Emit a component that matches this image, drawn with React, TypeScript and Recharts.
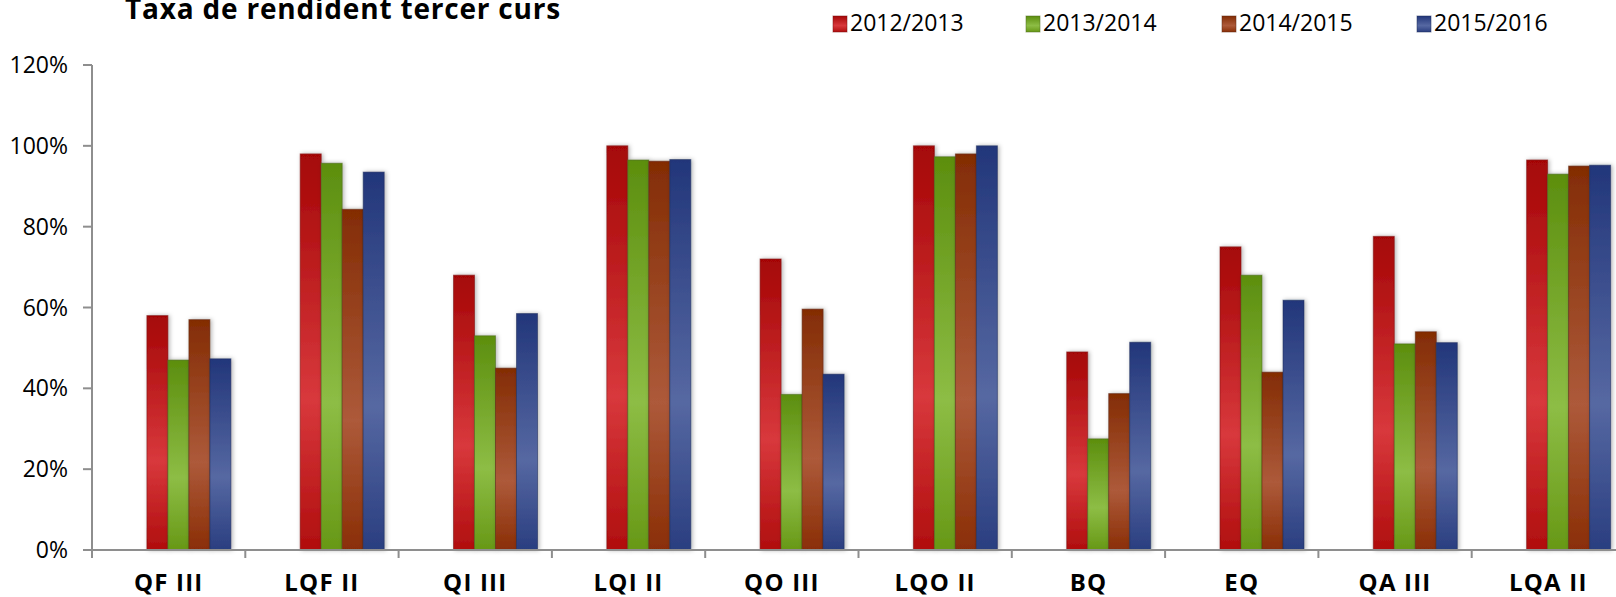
import React from 'react';
import { BarChart, Bar, XAxis, YAxis } from 'recharts';

const categories = ['QF III', 'LQF II', 'QI III', 'LQI II', 'QO III', 'LQO II', 'BQ', 'EQ', 'QA III', 'LQA II'];
const y2012 = [58, 98, 68, 100, 72, 100, 49, 75, 77.6, 96.5];
const y2013 = [47, 95.7, 53, 96.5, 38.5, 97.3, 27.5, 68, 51, 93];
const y2014 = [57, 84.3, 45, 96.2, 59.6, 98, 38.7, 44, 54, 95];
const y2015 = [47.3, 93.5, 58.5, 96.6, 43.5, 100, 51.4, 61.8, 51.3, 95.2];
const yTicks = [0, 20, 40, 60, 80, 100, 120];

const series = [
  { key: 's2012', name: '2012/2013', values: y2012, top: '#a50606', mid: '#d8383c', bottom: '#b00e0e', edge: '#7a1010' },
  { key: 's2013', name: '2013/2014', values: y2013, top: '#5c8e0e', mid: '#8dbd45', bottom: '#679816', edge: '#4d6a20' },
  { key: 's2014', name: '2014/2015', values: y2014, top: '#832c04', mid: '#ad5a3a', bottom: '#8a2e06', edge: '#5e2a14' },
  { key: 's2015', name: '2015/2016', values: y2015, top: '#22367a', mid: '#5668a2', bottom: '#2a3e80', edge: '#1e2c5a' },
];

const data = categories.map((c, i) => {
  const row: Record<string, string | number> = { cat: c };
  series.forEach((s) => { row[s.key] = s.values[i]; });
  return row;
});

const W = 1640;
const H = 597;
const M = { top: 65, right: 15, bottom: 0, left: 0 };
const Y_W = 92;
const X_H = 47;
const HALF_BAND = (W - M.left - M.right - Y_W) / categories.length / 2;
const FONT = '"Open Sans", Lato, sans-serif';
const AXIS = '#8e8e8e';

const legendX = [833, 1026, 1222, 1417];

const CatTick = (props: any) => {
  const { x, y, payload } = props;
  return (
    <g>
      <line x1={x - HALF_BAND} y1={y} x2={x - HALF_BAND} y2={y + 8} stroke={AXIS} strokeWidth={2} />
      <text x={x} y={y + 41} textAnchor="middle" fontFamily={FONT} fontWeight={700} fontSize={24} fill="#000" letterSpacing={1.2}>
        {payload.value}
      </text>
    </g>
  );
};

const makeShape = (id: string, edge: string) => (props: any) => {
  const { x, y, width, height } = props;
  if (!height || height <= 0) return <g />;
  return (
    <rect x={x} y={y} width={width} height={height} fill={`url(#g-${id})`} stroke={edge} strokeOpacity={0.55} strokeWidth={1} filter="url(#barShadow)" />
  );
};

export default function App() {
  return (
    <div style={{ position: 'absolute', left: 0, top: 0, width: 1616, height: 597, overflow: 'hidden', background: '#fff' }}>
      <BarChart width={W} height={H} data={data} margin={M} barCategoryGap={12.9} barGap={0}>
        <defs>
          {series.map((s) => (
            <linearGradient key={s.key} id={`g-${s.key}`} x1="0" y1="0" x2="0" y2="1">
              <stop offset="0%" stopColor={s.top} />
              <stop offset="62%" stopColor={s.mid} />
              <stop offset="100%" stopColor={s.bottom} />
            </linearGradient>
          ))}
          <filter id="barShadow" x="-30%" y="-10%" width="160%" height="120%">
            <feDropShadow dx="1.5" dy="0" stdDeviation="2" floodColor="#000" floodOpacity="0.3" />
          </filter>
        </defs>
        <XAxis
          dataKey="cat"
          height={X_H}
          axisLine={{ stroke: AXIS, strokeWidth: 2 }}
          tickLine={false}
          tickSize={0}
          tickMargin={0}
          interval={0}
          tick={<CatTick />}
        />
        <YAxis
          width={Y_W}
          domain={[0, 120]}
          ticks={yTicks}
          interval={0}
          tickFormatter={(v: number) => `${v}%`}
          axisLine={{ stroke: AXIS, strokeWidth: 2 }}
          tickLine={{ stroke: AXIS, strokeWidth: 2 }}
          tickSize={9}
          tickMargin={15}
          tick={{ fontFamily: FONT, fontSize: 23, fill: '#000' }}
        />
        <Bar dataKey="pad1" fill="none" isAnimationActive={false} />
        <Bar dataKey="pad2" fill="none" isAnimationActive={false} />
        {series.map((s) => (
          <Bar key={s.key} dataKey={s.key} name={s.name} isAnimationActive={false} shape={makeShape(s.key, s.edge)} />
        ))}
      </BarChart>
      <svg width={1616} height={597} style={{ position: 'absolute', left: 0, top: 0, pointerEvents: 'none' }}>
        <defs>
          {series.map((s) => (
            <linearGradient key={s.key} id={`lg-${s.key}`} x1="0" y1="0" x2="0" y2="1">
              <stop offset="0%" stopColor={s.top} />
              <stop offset="60%" stopColor={s.mid} />
              <stop offset="100%" stopColor={s.bottom} />
            </linearGradient>
          ))}
        </defs>
        <text x={343} y={19} textAnchor="middle" fontFamily={FONT} fontWeight={700} fontSize={28} letterSpacing={0.8} fill="#000">
          Taxa de rendident tercer curs
        </text>
        {series.map((s, i) => (
          <g key={s.key}>
            <rect x={legendX[i]} y={16} width={14} height={16} fill={`url(#lg-${s.key})`} stroke={s.edge} strokeOpacity={0.5} />
            <text x={legendX[i] + 17} y={31} fontFamily={FONT} fontSize={23} fill="#000">{s.name}</text>
          </g>
        ))}
      </svg>
    </div>
  );
}
